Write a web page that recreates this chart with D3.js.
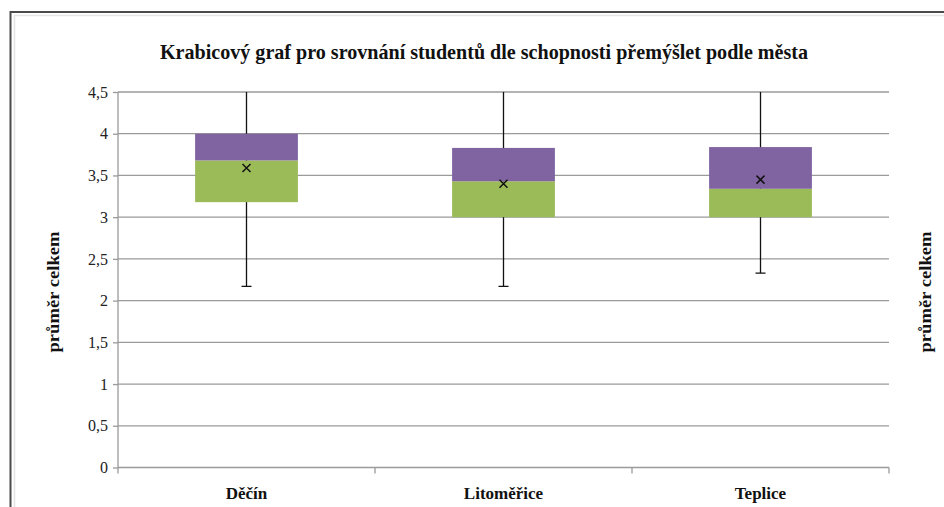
<!DOCTYPE html>
<html><head><meta charset="utf-8">
<script src="https://cdn.jsdelivr.net/npm/d3@7"></script>
<style>html,body{margin:0;padding:0;background:#fff;overflow:hidden}
svg text{font-family:"Liberation Serif","Times New Roman","DejaVu Serif",serif}</style>
</head><body>
<svg id="c" width="944" height="507"></svg>
<script>
const categories = ["Děčín", "Litoměřice", "Teplice"];
const lowerWhisker = [2.17, 2.17, 2.33];
const q1 = [3.18, 3.0, 3.0];
const median = [3.68, 3.43, 3.34];
const q3 = [4.0, 3.83, 3.84];
const upperWhisker = [5, 5, 5];
const mean = [3.59, 3.40, 3.45];
const yTicks = [0, 0.5, 1, 1.5, 2, 2.5, 3, 3.5, 4, 4.5];
const titleText = "Krabicový graf pro srovnání studentů dle schopnosti přemýšlet podle města";
const axisTitle = "průměr celkem";

const svg = d3.select("#c");
const M = {left: 118, right: 889, top: 92, bottom: 467.5};
const x = d3.scaleBand().domain(categories).range([M.left, M.right]).paddingInner(0).paddingOuter(0);
const y = d3.scaleLinear().domain([0, 4.5]).range([M.bottom, M.top]);

// outer frame
svg.append("rect").attr("x", 10.5).attr("y", 12).attr("width", 960).attr("height", 520)
  .attr("fill", "none").attr("stroke", "#4a4a4a").attr("stroke-width", 2);
svg.append("rect").attr("x", 14.5).attr("y", 15.5).attr("width", 960).attr("height", 520)
  .attr("fill", "none").attr("stroke", "#e4e4e4").attr("stroke-width", 1.5);

// title
svg.append("text").attr("x", 484).attr("y", 59).attr("text-anchor", "middle")
  .attr("font-weight", "bold").attr("font-size", 21)
  .attr("textLength", 648).attr("lengthAdjust", "spacingAndGlyphs")
  .attr("fill", "#111").text(titleText);

// gridlines
svg.append("g").selectAll("line").data(yTicks.filter(d => d > 0)).join("line")
  .attr("x1", M.left).attr("x2", M.right).attr("y1", d => y(d)).attr("y2", d => y(d))
  .attr("stroke", "#9a9a9a").attr("stroke-width", 1.3);

// y axis
const yAxis = d3.axisLeft(y).tickValues(yTicks).tickSize(5).tickPadding(5)
  .tickFormat(d => String(d).replace(".", ","));
const gy = svg.append("g").attr("transform", `translate(${M.left},0)`).call(yAxis);
gy.attr("font-family", null);
gy.select(".domain").attr("stroke", "#9a9a9a").attr("stroke-width", 1.3).attr("d", `M-0,${M.bottom}V${M.top}`);
gy.selectAll(".tick line").attr("stroke", "#9a9a9a").attr("stroke-width", 1.3);
gy.selectAll(".tick text").attr("font-size", 16).attr("fill", "#222");

// x axis
const gx = svg.append("g").attr("transform", `translate(0,${M.bottom})`);
gx.append("line").attr("x1", M.left).attr("x2", M.right).attr("y1", 0).attr("y2", 0)
  .attr("stroke", "#9a9a9a").attr("stroke-width", 1.3);
const bounds = categories.map(c => x(c)).concat([x(categories[categories.length - 1]) + x.bandwidth()]);
gx.selectAll("line.tk").data(bounds).join("line").attr("class", "tk")
  .attr("x1", d => d).attr("x2", d => d).attr("y1", 0).attr("y2", 6)
  .attr("stroke", "#9a9a9a").attr("stroke-width", 1.3);
gx.selectAll("text").data(categories).join("text")
  .attr("x", d => x(d) + x.bandwidth() / 2).attr("y", 31).attr("text-anchor", "middle")
  .attr("font-weight", "bold").attr("font-size", 17)
  .attr("fill", "#111").text(d => d);

// axis titles
[[53, 292], [925, 292]].forEach(([cx, cy]) => {
  svg.append("text").attr("transform", `translate(${cx},${cy}) rotate(-90)`)
    .attr("text-anchor", "middle").attr("dy", "0.35em")
    .attr("font-weight", "bold").attr("font-size", 16)
    .attr("textLength", 121).attr("lengthAdjust", "spacingAndGlyphs")
    .attr("fill", "#111").text(axisTitle);
});

// clip
svg.append("clipPath").attr("id", "pc").append("rect")
  .attr("x", M.left).attr("y", M.top).attr("width", M.right - M.left).attr("height", M.bottom - M.top);
const g = svg.append("g").attr("clip-path", "url(#pc)");

const bw = x.bandwidth() * 0.4;
const cx = i => x(categories[i]) + x.bandwidth() / 2;
const idx = categories.map((_, i) => i);

// whiskers
g.selectAll("line.wh").data(idx).join("line").attr("class", "wh")
  .attr("x1", cx).attr("x2", cx).attr("y1", i => y(upperWhisker[i])).attr("y2", i => y(lowerWhisker[i]))
  .attr("stroke", "#111").attr("stroke-width", 1.3);
g.selectAll("line.capl").data(idx).join("line").attr("class", "capl")
  .attr("x1", i => cx(i) - 5).attr("x2", i => cx(i) + 5).attr("y1", i => y(lowerWhisker[i])).attr("y2", i => y(lowerWhisker[i]))
  .attr("stroke", "#111").attr("stroke-width", 1.3);
g.selectAll("line.capu").data(idx).join("line").attr("class", "capu")
  .attr("x1", i => cx(i) - 5).attr("x2", i => cx(i) + 5).attr("y1", i => y(upperWhisker[i])).attr("y2", i => y(upperWhisker[i]))
  .attr("stroke", "#111").attr("stroke-width", 1.3);

// boxes
g.selectAll("rect.lo").data(idx).join("rect").attr("class", "lo")
  .attr("x", i => cx(i) - bw / 2).attr("width", bw)
  .attr("y", i => y(median[i])).attr("height", i => y(q1[i]) - y(median[i]))
  .attr("fill", "#9BBB59");
g.selectAll("rect.hi").data(idx).join("rect").attr("class", "hi")
  .attr("x", i => cx(i) - bw / 2).attr("width", bw)
  .attr("y", i => y(q3[i])).attr("height", i => y(median[i]) - y(q3[i]))
  .attr("fill", "#8064A2");

// mean markers
const s = 4;
g.selectAll("path.mean").data(idx).join("path").attr("class", "mean")
  .attr("d", i => { const px = cx(i), py = y(mean[i]); return `M${px - s},${py - s}L${px + s},${py + s}M${px - s},${py + s}L${px + s},${py - s}`; })
  .attr("stroke", "#111").attr("stroke-width", 1.5).attr("fill", "none");
</script>
</body></html>
